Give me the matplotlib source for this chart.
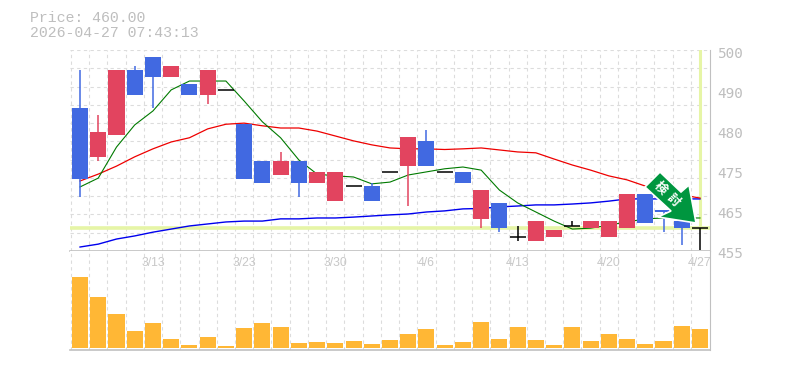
import matplotlib
matplotlib.use("Agg")
import matplotlib.pyplot as plt
from matplotlib.patches import Polygon

W, H = 785, 370

# price candles, one per session
opens = [487, 476, 481, 495.5, 498.5, 494, 492.5, 490, 491, 483.5, 475, 472, 475, 470, 466, 469.5, 469.5,
         472.5, 474, 479.5, 472.5, 472.5, 462, 465.5, 458, 457, 458, 460.5, 460, 458, 460, 467.5, 464, 461.5, 460]
closes = [471, 481.5, 495.5, 490, 494, 496.5, 490, 495.5, 491, 471, 470, 475, 470, 472.5, 472.5, 469.5, 466,
          472.5, 480.5, 474, 472.5, 470, 468.5, 460, 458, 461.5, 459.5, 460.5, 461.5, 461.5, 467.5, 461, 463.5, 460, 460]
highs = [495.5, 485.5, 495.5, 496.5, 498.5, 496.5, 492.5, 495.5, 491, 483.5, 475, 477, 475, 472.5, 472.5, 469.5, 470,
         472.5, 480.5, 482, 472.5, 472.5, 468.5, 465.5, 460.5, 461.5, 459.5, 461.5, 461.5, 461.5, 467.5, 467.5, 464, 461.5, 460]
lows = [467, 475, 481, 490, 487, 494, 490, 488, 491, 471, 470, 472, 467, 470, 466, 469.5, 466,
        472.5, 465, 474, 472.5, 470, 460, 459, 457, 457, 458, 460.5, 460, 458, 460, 461, 459, 456, 455]
volume = [71, 51, 34, 17, 25, 9, 3, 11, 2, 20, 25, 21, 5, 6, 5, 7, 4,
          8, 14, 19, 3, 6, 26, 9, 21, 8, 3, 21, 7, 14, 9, 4, 7, 22, 19]

# moving averages
ma_short = [469.2, 471.2, 478.2, 483.2, 486.35, 491.1, 493.1, 493.1, 493.1, 488.6, 483.9, 480.3, 475.3, 472.1, 471.7,
            471.45, 469.9, 470.3, 471.9, 472.6, 473.3, 473.7, 473, 468.5, 465.6, 463.55, 461.5, 459.7, 459.9, 460.6,
            461.3, 462, 462.2, 462.2, 462.2]
ma_mid = [470.55, 472.1, 473.9, 476, 477.8, 479.35, 480.3, 482.3, 483.35, 483.6, 483, 482.5, 482.5, 481.8, 480.7,
          479.6, 478.7, 478, 477.8, 477.8, 477.65, 477.8, 478, 477.55, 477.1, 476.9, 475.5, 474.15, 473, 471.7,
          470.8, 469.4, 468.3, 467.4, 466.7]
ma_long = [455.65, 456.3, 457.45, 458.15, 459, 459.7, 460.4, 460.85, 461.3, 461.5, 461.5, 462, 462, 462.2, 462.2,
           462.4, 462.65, 462.9, 463.1, 463.55, 463.8, 464.25, 464.35, 464.7, 464.9, 465.15, 465.15, 465.35, 465.6,
           466, 466.5, 466.5, 466.5, 466.5, 466.5]

date_labels = ["3/13", "3/23", "3/30", "4/6", "4/13", "4/20", "4/27"]
date_index = [4, 9, 14, 19, 24, 29, 34]
price_labels = ["455", "465", "475", "480", "490", "500"]
price_ticks = [455, 464, 473, 482, 491, 500]
last_price = 460

UP = "#e2445f"
DOWN = "#4169e1"
GRID = "#dcdcdc"
FRAME = "#c0c0c0"
TEXT = "#bebebe"
MARK = "#e6f5a6"
x = list(range(len(opens)))


def box(left, top, right, bottom):
    return [left / W, 1 - bottom / H, (right - left) / W, (bottom - top) / H]


fig = plt.figure(figsize=(W / 100, H / 100), dpi=100)
ax = fig.add_axes(box(70, 50, 710, 251))
vol = fig.add_axes(box(70, 251, 710, 350), sharex=ax)

ax.set_xlim(-0.55, 34.55)
ax.set_ylim(454.75, 500.1)
vol.set_ylim(-2, 97)

for a in (ax, vol):
    a.set_xticks([i - 0.5 for i in range(35)])
    a.grid(axis="x", color=GRID, linestyle=(0, (3, 3)), linewidth=0.8)
    a.tick_params(length=0, labelbottom=False, labelleft=False)
    a.set_axisbelow(True)
    for s in a.spines.values():
        s.set_visible(False)
    a.spines["bottom"].set_visible(True)
    a.spines["right"].set_visible(True)
    a.spines["bottom"].set_color(FRAME)
    a.spines["right"].set_color(FRAME)
    a.spines["bottom"].set_linewidth(1.2)

ax.set_yticks([454.75 + 45.35 * i / 11 for i in range(12)])
ax.grid(axis="y", color=GRID, linestyle=(0, (3, 3)), linewidth=0.8)

# current price cross hair
ax.axhline(last_price, color=MARK, linewidth=2.6, zorder=1)
ax.plot([x[-1], x[-1]], [last_price, 500.1], color=MARK, linewidth=2.2, zorder=1)

ax.plot(x, ma_long, color="#0000ee", linewidth=1, zorder=2)
ax.plot(x, ma_mid, color="#ee0000", linewidth=0.9, zorder=2)
ax.plot(x, ma_short, color="#007a00", linewidth=0.8, zorder=2)

for i in x:
    o, c = opens[i], closes[i]
    if o == c:
        col = "black"
        ax.plot([i - 0.44, i + 0.44], [c, c], color=col, linewidth=1.1, zorder=3, solid_capstyle="butt")
    else:
        col = UP if c > o else DOWN
        ax.bar(i, abs(c - o), bottom=min(o, c), width=0.88, color=col, zorder=3)
    ax.plot([i, i], [lows[i], highs[i]], color=col, linewidth=1.1, zorder=3, solid_capstyle="butt")

vol.bar(x, volume, width=0.88, color="#ffb735", zorder=3)

for i, label in zip(date_index, date_labels):
    vol.annotate(label, (i, 1), xycoords=("data", "axes fraction"), xytext=(0, -8.5), textcoords="offset points",
                 ha="center", va="center", color="#c8c8c8", fontsize=8.8, family="Liberation Sans",
                 annotation_clip=False)

for p, label in zip(price_ticks, price_labels):
    ax.annotate(label, (1, p), xycoords=("axes fraction", "data"), xytext=(5.5, -2.8), textcoords="offset points",
                ha="left", va="center", color=TEXT, fontsize=10.4, family="DejaVu Sans Mono",
                annotation_clip=False)

fig.text(30 / W, 1 - 22 / H, "Price: 460.00", color=TEXT, fontsize=10.7, family="Liberation Mono", va="baseline")
fig.text(30 / W, 1 - 37 / H, "2026-04-27 07:43:13", color=TEXT, fontsize=10.7, family="Liberation Mono", va="baseline")

# green arrow stamp over the last sessions
arrow = [(660, 172), (645, 187), (671, 211), (658, 217), (696, 223), (689, 185), (681, 192)]
fig.add_artist(Polygon([(px / W, 1 - py / H) for px, py in arrow], closed=True, transform=fig.transFigure,
                       facecolor="#00963f", edgecolor="white", linewidth=1.2, zorder=10))
for px, py, ch in [(660, 188, "検"), (673, 200, "討")]:
    fig.text(px / W, 1 - py / H, ch, color="white", fontsize=9, rotation=-45, rotation_mode="anchor",
             ha="center", va="center", fontweight="bold", family="Noto Sans CJK JP", zorder=11)

fig.savefig("out.png", dpi=100)
